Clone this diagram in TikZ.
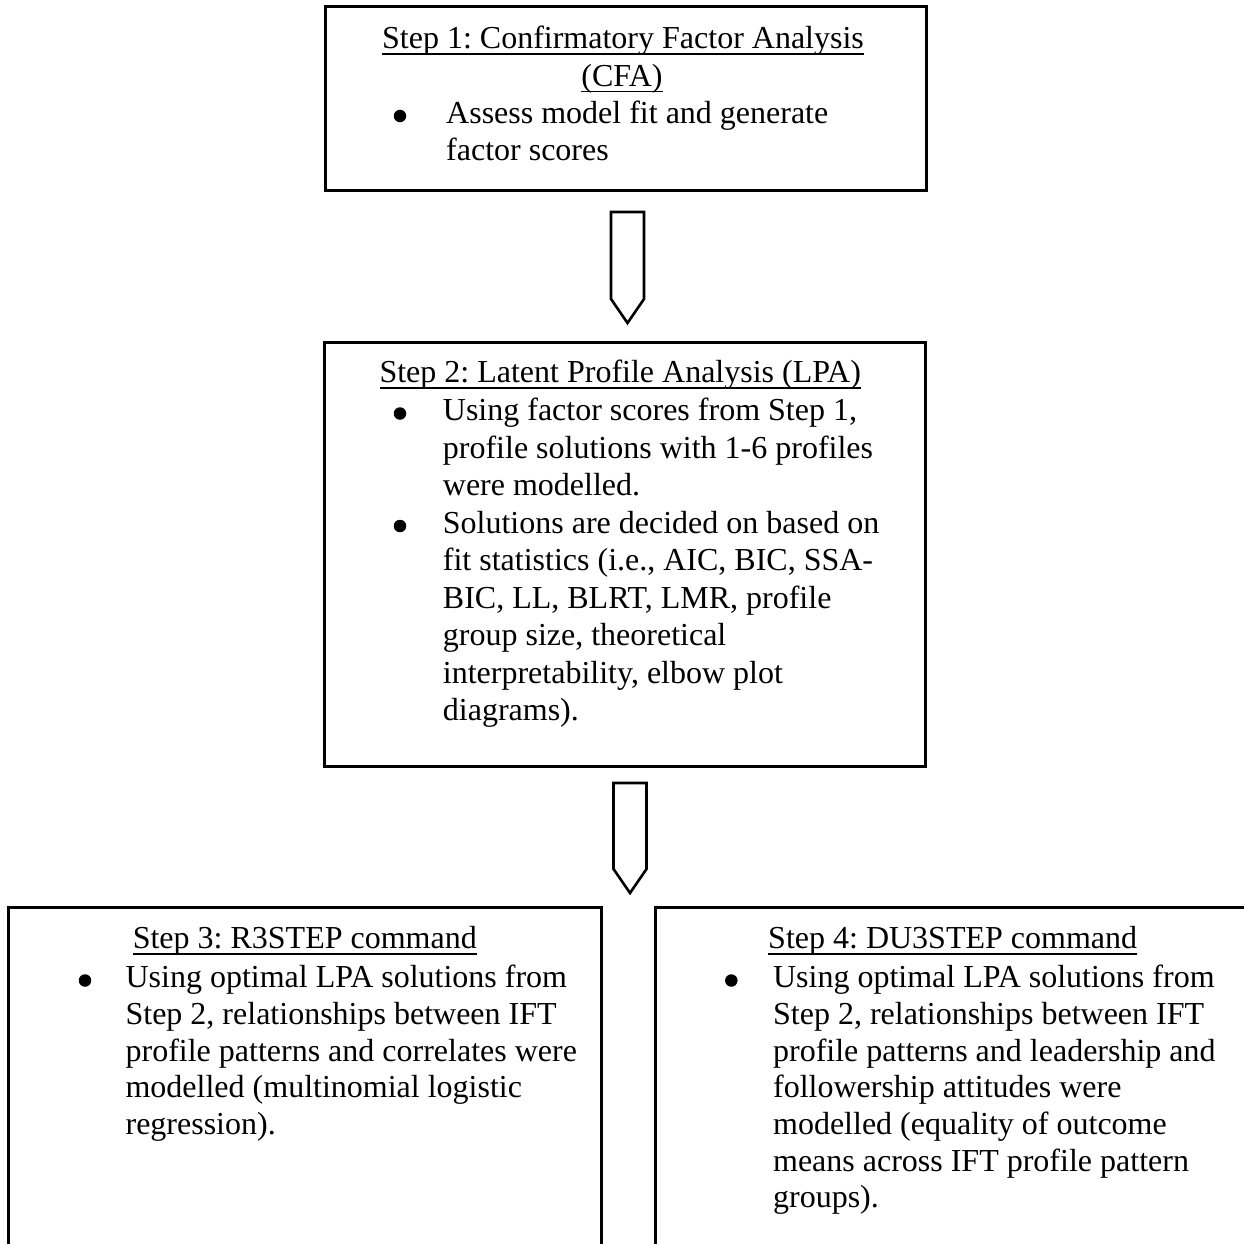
\documentclass[tikz,border=0pt]{standalone}
\usepackage{fontspec}
\setmainfont{Liberation Serif}
\usetikzlibrary{calc}
\frenchspacing
\newcommand\myul[1]{\setbox0\hbox{#1}\rlap{\rule[-6pt]{\wd0}{1.8pt}}\box0}
\begin{document}
\begin{tikzpicture}[x=1pt,y=-1pt,
  stepbox/.style={draw=black, line width=3pt, inner sep=0pt, fill=none},
  txt/.style={anchor=base west, inner sep=0pt, font=\fontsize{32}{37}\selectfont\frenchspacing},
  ctxt/.style={anchor=base, inner sep=0pt, font=\fontsize{32}{37}\selectfont\frenchspacing},
  blt/.style={circle, fill=black, draw=none, inner sep=0pt, minimum size=12.5pt},
  blockarrow/.style={draw=black, line width=2.6pt, fill=white, line join=miter}]
\useasboundingbox (0,0) rectangle (1244,1244);
\fill[white] (0,0) rectangle (1244,1244);
\clip (0,0) rectangle (1244,1244);

% Boxes
\node[stepbox, minimum width=601pt, minimum height=183pt] (b1) at (625.5,98.5) {};
\node[stepbox, minimum width=601pt, minimum height=424pt] (b2) at (624.5,554) {};
\node[stepbox, minimum width=593pt, minimum height=360pt] (b3) at (304.5,1087) {};
\node[stepbox, minimum width=600pt, minimum height=360pt] (b4) at (955,1087) {};

% Block arrows
\coordinate (a1n) at (627.5,212);
\coordinate (a1s) at (627.5,323);
\draw[blockarrow] ($(a1n)+(-16.5,0)$) -- ($(a1n)+(16.5,0)$) -- ($(a1s)+(16.5,-24)$) -- (a1s) -- ($(a1s)+(-16.5,-24)$) -- cycle;
\coordinate (a2n) at (630,783);
\coordinate (a2s) at (630,893);
\draw[blockarrow] ($(a2n)+(-16.5,0)$) -- ($(a2n)+(16.5,0)$) -- ($(a2s)+(16.5,-24)$) -- (a2s) -- ($(a2s)+(-16.5,-24)$) -- cycle;

% Box 1 text
\node[ctxt] (t1a) at (623,49) {\myul{Step 1: Confirmatory Factor Analysis}};
\node[ctxt] (t1b) at (622,86.5) {\myul{(CFA)}};
\node[blt] (u1a) at (400,116) {};
\node[txt] (t1c) at (446,123.5) {Assess model fit and generate};
\node[txt] (t1d) at (446,160.5) {factor scores};

% Box 2 text
\node[txt] (t2a) at (379.3,382.5) {\myul{Step 2: Latent Profile Analysis (LPA)}};
\node[blt] (u2a) at (400,413.5) {};
\node[txt] (t2b) at (442.7,420.5) {Using factor scores from Step 1,};
\node[txt] (t2c) at (442.7,458) {profile solutions with 1-6 profiles};
\node[txt] (t2d) at (442.7,495.5) {were modelled.};
\node[blt] (u2b) at (400,526) {};
\node[txt] (t2e) at (442.7,533) {Solutions are decided on based on};
\node[txt] (t2f) at (442.7,570.5) {fit statistics (i.e., AIC, BIC, SSA-};
\node[txt] (t2g) at (442.7,608) {BIC, LL, BLRT, LMR, profile};
\node[txt] (t2h) at (442.7,645.5) {group size, theoretical};
\node[txt] (t2i) at (442.7,683) {interpretability, elbow plot};
\node[txt] (t2j) at (442.7,720.5) {diagrams).};

% Box 3 text
\node[txt] (t3a) at (132.6,948.5) {\myul{Step 3: R3STEP command}};
\node[blt] (u3a) at (85,980.5) {};
\node[txt] (t3b) at (125.4,987.5) {Using optimal LPA solutions from};
\node[txt] (t3c) at (125.4,1024.2) {Step 2, relationships between IFT};
\node[txt] (t3d) at (125.4,1061) {profile patterns and correlates were};
\node[txt] (t3e) at (125.4,1097.5) {modelled (multinomial logistic};
\node[txt] (t3f) at (125.4,1134.2) {regression).};

% Box 4 text
\node[txt] (t4a) at (768,948.5) {\myul{Step 4: DU3STEP command}};
\node[blt] (u4a) at (731.3,980.5) {};
\node[txt] (t4b) at (772.9,987.5) {Using optimal LPA solutions from};
\node[txt] (t4c) at (772.9,1024.2) {Step 2, relationships between IFT};
\node[txt] (t4d) at (772.9,1061) {profile patterns and leadership and};
\node[txt] (t4e) at (772.9,1097.5) {followership attitudes were};
\node[txt] (t4f) at (772.9,1134.2) {modelled (equality of outcome};
\node[txt] (t4g) at (772.9,1171) {means across IFT profile pattern};
\node[txt] (t4h) at (772.9,1207.5) {groups).};
\end{tikzpicture}
\end{document}
